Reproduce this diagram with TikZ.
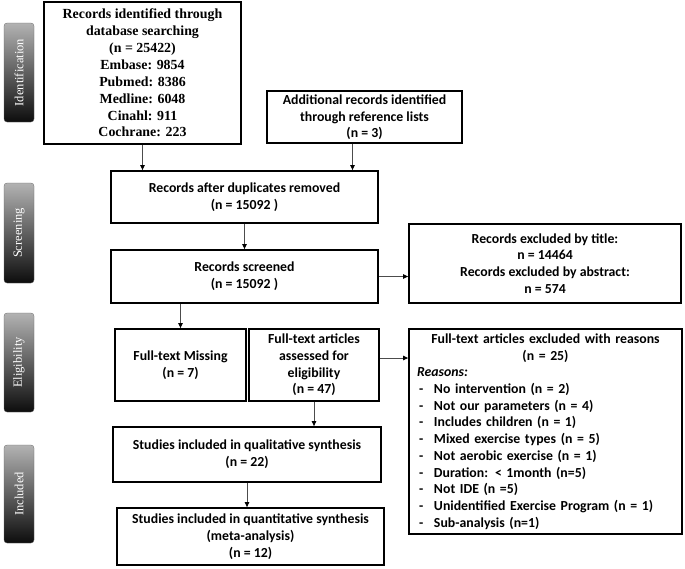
\documentclass[tikz,border=0pt]{standalone}
\usepackage{fontspec}
\usepackage{graphicx}
\setmainfont{Carlito}
\newfontfamily\tnr{Liberation Serif}
\usetikzlibrary{arrows.meta}
\newcommand\calfont{\fontsize{13.8}{16.7}\selectfont\bfseries}
\newcommand\serfont{\tnr\fontsize{13.9}{16.9}\selectfont\bfseries}
\newcommand\barfont{\tnr\fontsize{12.5}{14}\selectfont\color{white}}
\begin{document}
\begin{tikzpicture}[x=1pt,y=-1pt,
  pbox/.style={draw, line width=1.8pt, inner sep=0pt, align=center, font=\calfont},
  sbar/.style={rounded corners=3pt, top color=black!30, bottom color=black!95, draw=black!60,
     line width=0.3pt, inner sep=0pt, minimum width=30pt},
  arr/.style={draw=black!70, line width=0.9pt, -{Triangle[length=5pt,width=4.5pt,color=black]}}]
\fill[white] (0,0) rectangle (685,568);
\useasboundingbox (0,0) rectangle (685,568);

% side bars
\node[sbar, minimum height=99pt] (idbar) at (19,72.5) {\rotatebox{90}{\barfont Identification}};
\node[sbar, minimum height=100pt] (scbar) at (19,233) {\rotatebox{90}{\barfont Screening}};
\node[sbar, minimum height=99pt] (elbar) at (19,362.5) {\rotatebox{90}{\barfont Eligibility}};
\node[sbar, minimum height=98pt] (inbar) at (19,494) {\rotatebox{90}{\barfont Included}};

% boxes
\node[pbox, font=\serfont, minimum width=197pt, minimum height=142pt] (db) at (142.5,73)
 {Records identified through\\database searching\\(n = 25422)\\Embase: 9854\\Pubmed: 8386\\Medline: 6048\\Cinahl: 911\\Cochrane: 223};
\node[pbox, minimum width=195pt, minimum height=52pt] (add) at (364.5,117)
 {Additional records identified\\through reference lists\\[-1pt](n = 3)};
\node[pbox, minimum width=267pt, minimum height=52pt] (dup) at (244.5,197)
 {Records after duplicates removed\\(n = 15092 )};
\node[pbox, minimum width=267pt, minimum height=53pt] (scr) at (244.5,276.5)
 {Records screened\\(n = 15092 )};
\node[pbox, minimum width=272pt, minimum height=79pt] (excl1) at (545,263.5)
 {Records excluded by title:\\n = 14464\\Records excluded by abstract:\\n = 574};
\node[pbox, minimum width=131pt, minimum height=72pt] (missing) at (180.5,365)
 {Full-text Missing\\(n = 7)};
\node[pbox, minimum width=130pt, minimum height=72pt] (fulltext) at (314,365)
 {Full-text articles\\assessed for\\eligibility\\(n = 47)};
\node[pbox, align=left, text width=257pt, minimum width=273pt, minimum height=205pt] (excl2) at (545.5,431.5)
 {\makebox[257pt][c]{Full-text articles excluded with reasons}\\
  \makebox[257pt][c]{(n = 25)}\\
  \textit{Reasons:}\\
  \makebox[17pt][l]{\hspace{2pt}-}No intervention (n = 2)\\
  \makebox[17pt][l]{\hspace{2pt}-}Not our parameters (n = 4)\\
  \makebox[17pt][l]{\hspace{2pt}-}Includes children (n = 1)\\
  \makebox[17pt][l]{\hspace{2pt}-}Mixed exercise types (n = 5)\\
  \makebox[17pt][l]{\hspace{2pt}-}Not aerobic exercise (n = 1)\\
  \makebox[17pt][l]{\hspace{2pt}-}Duration: < 1month (n=5)\\
  \makebox[17pt][l]{\hspace{2pt}-}Not IDE (n =5)\\
  \makebox[17pt][l]{\hspace{2pt}-}Unidentified Exercise Program (n = 1)\\
  \makebox[17pt][l]{\hspace{2pt}-}Sub-analysis (n=1)};
\node[pbox, minimum width=268pt, minimum height=55pt] (qual) at (247,454.5)
 {Studies included in qualitative synthesis\\(n = 22)};
\node[pbox, minimum width=267pt, minimum height=57pt] (quant) at (250.5,536.5)
 {Studies included in quantitative synthesis\\(meta-analysis)\\(n = 12)};

% connectors
\coordinate (addout) at ([xshift=-12pt]add.south);
\coordinate (ftout) at ([yshift=7pt]fulltext.east);
\draw[arr] (db.south) -- (db.south |- dup.north);
\draw[arr] (addout) -- (addout |- dup.north);
\draw[arr] (dup.south) -- (scr.north);
\draw[arr] (scr.east) -- (scr.east -| excl1.west);
\draw[arr] (missing.north |- scr.south) -- (missing.north);
\draw[arr] (ftout) -- (ftout -| excl2.west);
\draw[arr] (fulltext.south) -- (fulltext.south |- qual.north);
\draw[arr] (qual.south) -- (qual.south |- quant.north);
\end{tikzpicture}
\end{document}
